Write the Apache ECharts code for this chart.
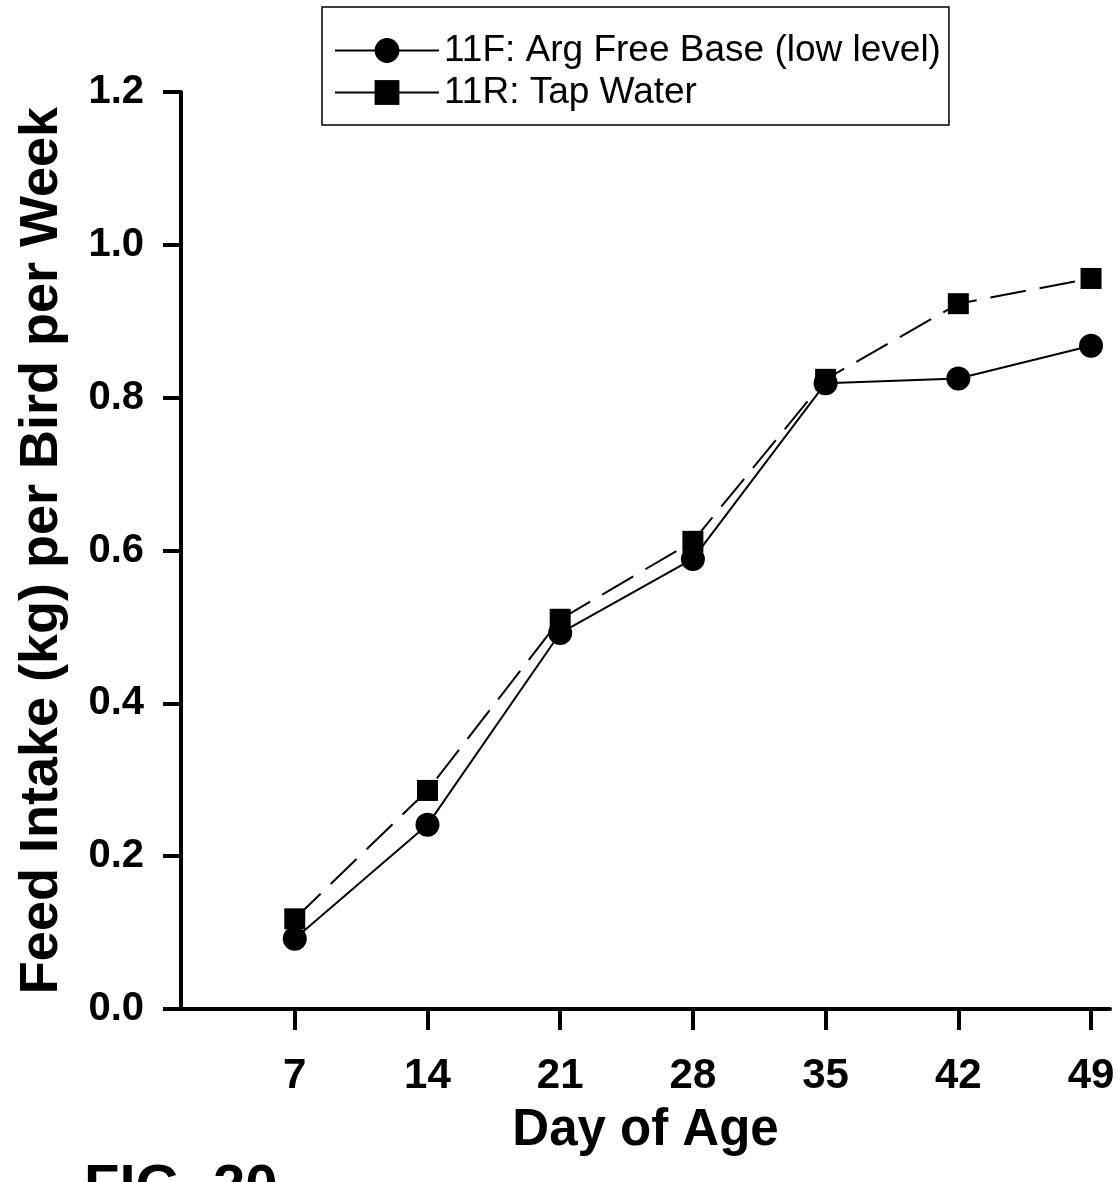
<!DOCTYPE html>
<html>
<head>
<meta charset="utf-8">
<script src="https://cdn.jsdelivr.net/npm/echarts@6/dist/echarts.min.js"></script>
<style>
html,body{margin:0;padding:0;background:#fff;}
#chart{width:1117px;height:1182px;}
</style>
</head>
<body>
<div id="chart"></div>
<script>
const days = [7, 14, 21, 28, 35, 42, 49];
const argFreeBase = [0.092, 0.241, 0.492, 0.589, 0.819, 0.825, 0.868];
const tapWater = [0.118, 0.286, 0.510, 0.612, 0.824, 0.923, 0.956];
const seriesNames = ['11F: Arg Free Base (low level)', '11R: Tap Water'];
const xTicks = [7, 14, 21, 28, 35, 42, 49];
const xTitle = 'Day of Age';
const yTitle = 'Feed Intake (kg) per Bird per Week';
const figLabel = 'FIG. 20';

const FONT = '"Liberation Sans", Arial, Helvetica, sans-serif';
const chart = echarts.init(document.getElementById('chart'), null, {renderer: 'canvas'});

function pairs(xs, ys) { return xs.map((x, i) => [x, ys[i]]); }

chart.setOption({
  backgroundColor: '#fff',
  animation: false,
  grid: {left: 181, right: 7, top: 92, bottom: 173, containLabel: false, outerBoundsMode: 'none'},
  legend: {
    orient: 'vertical',
    left: 322,
    top: 7,
    itemWidth: 104,
    itemHeight: 31,
    itemGap: 5,
    padding: [25, 8, 14, 12],
    borderColor: '#000',
    borderWidth: 1.5,
    backgroundColor: '#fff',
    textStyle: {fontFamily: FONT, fontSize: 37, color: '#000'},
    lineStyle: {type: 'solid', width: 2, color: '#000'},
    data: seriesNames
  },
  xAxis: {
    type: 'value',
    min: 1,
    max: 50,
    name: xTitle,
    nameLocation: 'middle',
    nameGap: 96,
    nameTextStyle: {fontFamily: FONT, fontSize: 51, fontWeight: 'bold', color: '#000'},
    axisLine: {show: true, lineStyle: {color: '#000', width: 4}},
    axisTick: {show: true, customValues: xTicks, length: 21, lineStyle: {color: '#000', width: 4}},
    axisLabel: {customValues: xTicks, margin: 46, fontFamily: FONT, fontSize: 42, fontWeight: 'bold', color: '#000'},
    splitLine: {show: false}
  },
  yAxis: {
    type: 'value',
    min: 0,
    max: 1.2,
    interval: 0.2,
    name: yTitle,
    nameLocation: 'middle',
    nameGap: 112,
    nameTextStyle: {fontFamily: FONT, fontSize: 54, fontWeight: 'bold', color: '#000'},
    axisLine: {show: true, lineStyle: {color: '#000', width: 4}},
    axisTick: {show: true, length: 18, lineStyle: {color: '#000', width: 4}},
    axisLabel: {margin: 37, fontFamily: FONT, fontSize: 40, fontWeight: 'bold', color: '#000',
      formatter: v => v.toFixed(1)},
    splitLine: {show: false}
  },
  graphic: [{
    type: 'text',
    left: 84,
    top: 1160,
    style: {text: figLabel, font: 'bold 58px ' + FONT, fill: '#000'}
  }],
  series: [
    {
      name: seriesNames[1],
      type: 'line',
      data: pairs(days, tapWater),
      symbol: 'rect',
      symbolSize: 21,
      itemStyle: {color: '#000'},
      lineStyle: {color: '#000', width: 2, type: [36, 14]},
      z: 2
    },
    {
      name: seriesNames[0],
      type: 'line',
      data: pairs(days, argFreeBase),
      symbol: 'circle',
      symbolSize: 24,
      itemStyle: {color: '#000'},
      lineStyle: {color: '#000', width: 2, type: 'solid'},
      z: 3
    }
  ]
});
</script>
</body>
</html>
